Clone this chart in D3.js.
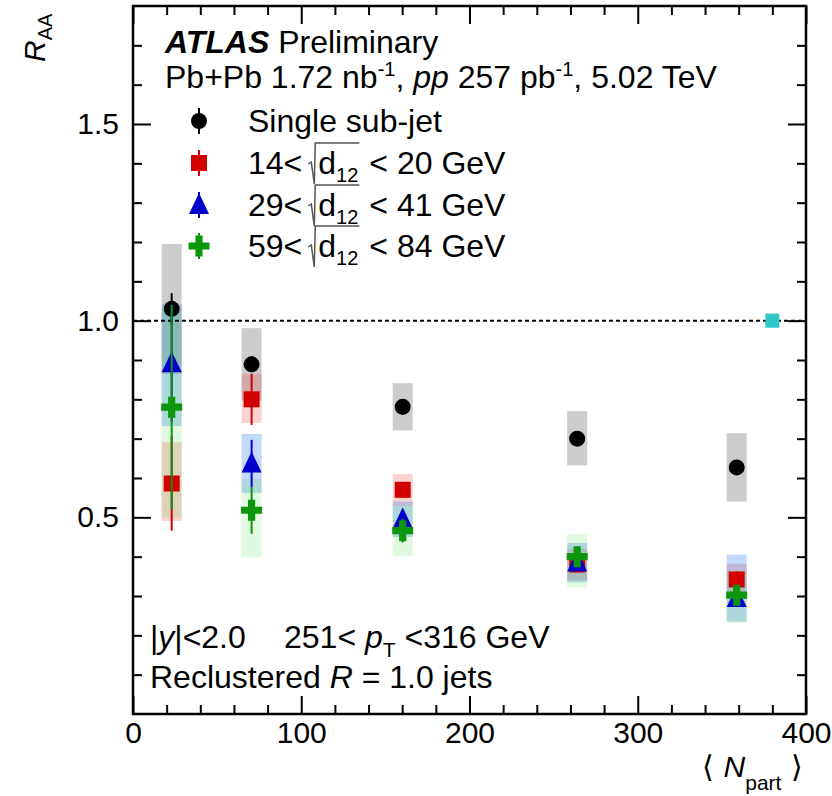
<!DOCTYPE html>
<html><head><meta charset="utf-8">
<script src="https://cdn.jsdelivr.net/npm/d3@7"></script>
<style>body{margin:0;background:#fff} text{font-family:"Liberation Sans",Arial,Helvetica,sans-serif;fill:#000}</style>
</head><body><svg id="c" width="832" height="796"></svg>
<script>
// ---------------- data ----------------
const npart = [23.0, 70.5, 160.3, 264.0, 358.8];
const seriesNames = ["single", "d12low", "d12mid", "d12high"];
const single      = [1.030, 0.889, 0.781, 0.700, 0.627];
const singleStat  = [0.040, 0.020, 0.020, 0.015, 0.018];
const singleSysUp = [0.165, 0.092, 0.060, 0.070, 0.087];
const singleSysDn = [0.165, 0.092, 0.060, 0.068, 0.087];
const d12low      = [0.586, 0.800, 0.570, 0.380, 0.342];
const d12lowStat  = [0.120, 0.065, 0.020, 0.020, 0.020];
const d12lowSysUp = [0.105, 0.065, 0.040, 0.040, 0.040];
const d12lowSysDn = [0.095, 0.060, 0.040, 0.040, 0.040];
const d12mid      = [0.892, 0.637, 0.495, 0.385, 0.295];
const d12midStat  = [0.150, 0.060, 0.020, 0.020, 0.020];
const d12midSysUp = [0.150, 0.075, 0.045, 0.050, 0.110];
const d12midSysDn = [0.160, 0.075, 0.045, 0.050, 0.060];
const d12high      = [0.780, 0.518, 0.466, 0.400, 0.302];
const d12highStat  = [0.260, 0.060, 0.030, 0.025, 0.020];
const d12highSysUp = [0.250, 0.080, 0.065, 0.058, 0.060];
const d12highSysDn = [0.280, 0.120, 0.065, 0.078, 0.070];
const lumiX = 380, lumiUnc = 0.018;
const xMajor = [0, 100, 200, 300, 400];
const xMinor = [20,40,60,80,120,140,160,180,220,240,260,280,320,340,360,380];
const yMajor = [0.5, 1.0, 1.5];
const yMinor = [0.1,0.2,0.3,0.4,0.6,0.7,0.8,0.9,1.1,1.2,1.3,1.4,1.6,1.7];
const legendLabels = ["Single sub-jet", "14|20", "29|41", "59|84"];
const d12Ranges = [null, [14, 20], [29, 41], [59, 84]];

// ---------------- setup ----------------
const svg = d3.select("#c");
const M = {l:133, r:806, t:6, b:714};
const x = d3.scaleLinear().domain([0,400]).range([M.l, M.r]);
const y = d3.scaleLinear().domain([0,1.8]).range([M.b, M.t]);
const FS = 30;   // axis labels
const TS = 32;   // texts inside the frame

const styles = [
  {vals: single, stat: singleStat, up: singleSysUp, dn: singleSysDn, col:"#000000", box:"rgba(0,0,0,0.20)", shape:"circle"},
  {vals: d12low, stat: d12lowStat, up: d12lowSysUp, dn: d12lowSysDn, col:"#d20000", box:"rgba(235,30,30,0.20)", shape:"square"},
  {vals: d12mid, stat: d12midStat, up: d12midSysUp, dn: d12midSysDn, col:"#0000cc", box:"rgba(40,120,235,0.28)", shape:"triangle"},
  {vals: d12high, stat: d12highStat, up: d12highSysUp, dn: d12highSysDn, col:"#0c960c", box:"rgba(40,210,40,0.14)", shape:"cross"}
];

function drawMarker(g, shape, cx, cy, col){
  if(shape==="circle"){
    g.append("circle").attr("cx",cx).attr("cy",cy).attr("r",8).attr("fill",col);
  } else if(shape==="square"){
    g.append("rect").attr("x",cx-8).attr("y",cy-8).attr("width",16).attr("height",16).attr("fill",col);
  } else if(shape==="triangle"){
    g.append("path").attr("d",`M${cx},${cy-12}L${cx+10},${cy+9}L${cx-10},${cy+9}Z`).attr("fill",col);
  } else {
    const a=10.5, t=3.6;
    g.append("path").attr("d",
      `M${cx-t},${cy-a}H${cx+t}V${cy-t}H${cx+a}V${cy+t}H${cx+t}V${cy+a}H${cx-t}V${cy+t}H${cx-a}V${cy-t}H${cx-t}Z`)
      .attr("fill",col);
  }
}

// ---------------- systematic boxes ----------------
const boxHalf = 10;
const gBoxes = svg.append("g");
styles.forEach(s=>{
  gBoxes.selectAll(null).data(npart).enter().append("rect")
    .attr("x", (d)=>x(d)-boxHalf).attr("width", boxHalf*2)
    .attr("y", (d,i)=>y(s.vals[i]+s.up[i]))
    .attr("height", (d,i)=>y(s.vals[i]-s.dn[i]) - y(s.vals[i]+s.up[i]))
    .attr("fill", s.box);
});

// unity line and luminosity box
svg.append("line").attr("x1",M.l).attr("x2",M.r).attr("y1",y(1)).attr("y2",y(1))
  .attr("stroke","#000").attr("stroke-width",2).attr("stroke-dasharray","4,3");
svg.append("rect").attr("x",x(lumiX)-7).attr("width",14)
  .attr("y",y(1+lumiUnc)).attr("height",y(1-lumiUnc)-y(1+lumiUnc)).attr("fill","#2ec8c8");

// ---------------- points ----------------
const gPts = svg.append("g");
styles.forEach(s=>{
  const g = gPts.append("g");
  npart.forEach((n,i)=>{
    g.append("line").attr("x1",x(n)).attr("x2",x(n))
      .attr("y1",y(s.vals[i]-s.stat[i])).attr("y2",y(s.vals[i]+s.stat[i]))
      .attr("stroke",s.col).attr("stroke-width",2);
    drawMarker(g, s.shape, x(n), y(s.vals[i]), s.col);
  });
});

// ---------------- axes ----------------
function styleAxis(g){
  g.select(".domain").remove();
  g.selectAll(".tick line").attr("stroke","#000").attr("stroke-width",2);
  g.selectAll(".tick text").style("font-size",FS+"px").attr("fill","#000")
    .style("font-family",'"Liberation Sans",Arial,sans-serif');
}
svg.append("g").attr("transform",`translate(0,${M.b})`)
  .call(d3.axisBottom(x).tickValues(xMajor).tickSize(-18).tickPadding(8).tickFormat(d3.format("d"))).call(styleAxis);
svg.append("g").attr("transform",`translate(0,${M.b})`)
  .call(d3.axisBottom(x).tickValues(xMinor).tickSize(-9).tickFormat("")).call(styleAxis);
svg.append("g").attr("transform",`translate(0,${M.t})`)
  .call(d3.axisTop(x).tickValues(xMajor).tickSize(-18).tickFormat("")).call(styleAxis);
svg.append("g").attr("transform",`translate(0,${M.t})`)
  .call(d3.axisTop(x).tickValues(xMinor).tickSize(-9).tickFormat("")).call(styleAxis);
svg.append("g").attr("transform",`translate(${M.l},0)`)
  .call(d3.axisLeft(y).tickValues(yMajor).tickSize(-18).tickPadding(14).tickFormat(d3.format(".1f"))).call(styleAxis);
svg.append("g").attr("transform",`translate(${M.l},0)`)
  .call(d3.axisLeft(y).tickValues(yMinor).tickSize(-9).tickFormat("")).call(styleAxis);
svg.append("g").attr("transform",`translate(${M.r},0)`)
  .call(d3.axisRight(y).tickValues(yMajor).tickSize(-18).tickFormat("")).call(styleAxis);
svg.append("g").attr("transform",`translate(${M.r},0)`)
  .call(d3.axisRight(y).tickValues(yMinor).tickSize(-9).tickFormat("")).call(styleAxis);

svg.append("rect").attr("x",M.l).attr("y",M.t).attr("width",M.r-M.l).attr("height",M.b-M.t)
  .attr("fill","none").attr("stroke","#000").attr("stroke-width",2.5);

// ---------------- axis titles ----------------
const ry = svg.append("text").attr("transform","translate(45,62) rotate(-90)").style("font-size",FS+"px");
ry.append("tspan").attr("font-style","italic").text("R");
ry.append("tspan").style("font-size","20px").attr("dy",7).text("AA");

const xt = svg.append("text").attr("x",803).attr("y",777).attr("text-anchor","end").style("font-size",FS+"px");
xt.append("tspan").style("font-family","DejaVu Sans").style("font-weight","200").text("\u27E8 ");
xt.append("tspan").attr("font-style","italic").text("N");
xt.append("tspan").style("font-size","21px").attr("dy",13).text("part");
xt.append("tspan").attr("dy",-13).style("font-family","DejaVu Sans").style("font-weight","200").text(" \u27E9");

// ---------------- header texts ----------------
const t1 = svg.append("text").attr("x",165).attr("y",53).style("font-size",TS+"px");
t1.append("tspan").attr("font-weight","bold").attr("font-style","italic").text("ATLAS");
t1.append("tspan").text(" Preliminary");

const t2 = svg.append("text").attr("x",165).attr("y",88).style("font-size",TS+"px");
t2.append("tspan").text("Pb+Pb 1.72 nb");
t2.append("tspan").style("font-size","20px").attr("dy",-12).text("-1");
t2.append("tspan").attr("dy",12).text(", ");
t2.append("tspan").attr("font-style","italic").text("pp");
t2.append("tspan").text(" 257 pb");
t2.append("tspan").style("font-size","20px").attr("dy",-12).text("-1");
t2.append("tspan").attr("dy",12).text(", 5.02 TeV");

// ---------------- legend ----------------
const legY = [121, 163, 205, 246];
const legMX = 199, legTX = 248;
const gLeg = svg.append("g");
styles.forEach((s,k)=>{
  const cy = legY[k];
  gLeg.append("line").attr("x1",legMX).attr("x2",legMX).attr("y1",cy-13).attr("y2",cy+13)
    .attr("stroke",s.col).attr("stroke-width",2);
  drawMarker(gLeg, s.shape, legMX, cy, s.col);
  const base = cy + 11;
  if(!d12Ranges[k]){
    gLeg.append("text").attr("x",legTX).attr("y",base).style("font-size",TS+"px").text(legendLabels[k]);
  } else {
    const [lo,hi] = d12Ranges[k];
    const a = gLeg.append("text").attr("x",legTX).attr("y",base).style("font-size",TS+"px").text(lo+"<");
    const rx = legTX + a.node().getComputedTextLength() + 6;
    const b = gLeg.append("text").attr("x",rx+10).attr("y",base).style("font-size",TS+"px");
    b.append("tspan").text("d");
    b.append("tspan").style("font-size","20px").attr("dy",8).text("12");
    const bend = rx + 10 + b.node().getComputedTextLength() + 1;
    gLeg.append("path")
      .attr("d",`M${rx},${cy+1}L${rx+3},${cy-1}L${rx+6},${cy+21}L${rx+7},${cy-20}L${bend},${cy-20}`)
      .attr("fill","none").attr("stroke","#555").attr("stroke-width",1.5);
    gLeg.append("text").attr("x",bend+10).attr("y",base).style("font-size",TS+"px").text("< "+hi+" GeV");
  }
});

// ---------------- bottom texts ----------------
const b1 = svg.append("text").attr("x",150).attr("y",648).style("font-size",TS+"px");
b1.append("tspan").text("|");
b1.append("tspan").attr("font-style","italic").text("y");
b1.append("tspan").text("|<2.0");
const b1b = svg.append("text").attr("x",284).attr("y",648).style("font-size",TS+"px");
b1b.append("tspan").text("251< ");
b1b.append("tspan").attr("font-style","italic").text("p");
b1b.append("tspan").style("font-size","21px").attr("dy",9).text("T");
b1b.append("tspan").attr("dy",-9).text(" <316 GeV");
const b2 = svg.append("text").attr("x",150).attr("y",688).style("font-size",TS+"px");
b2.append("tspan").text("Reclustered ");
b2.append("tspan").attr("font-style","italic").text("R");
b2.append("tspan").text(" = 1.0 jets");
</script></body></html>
